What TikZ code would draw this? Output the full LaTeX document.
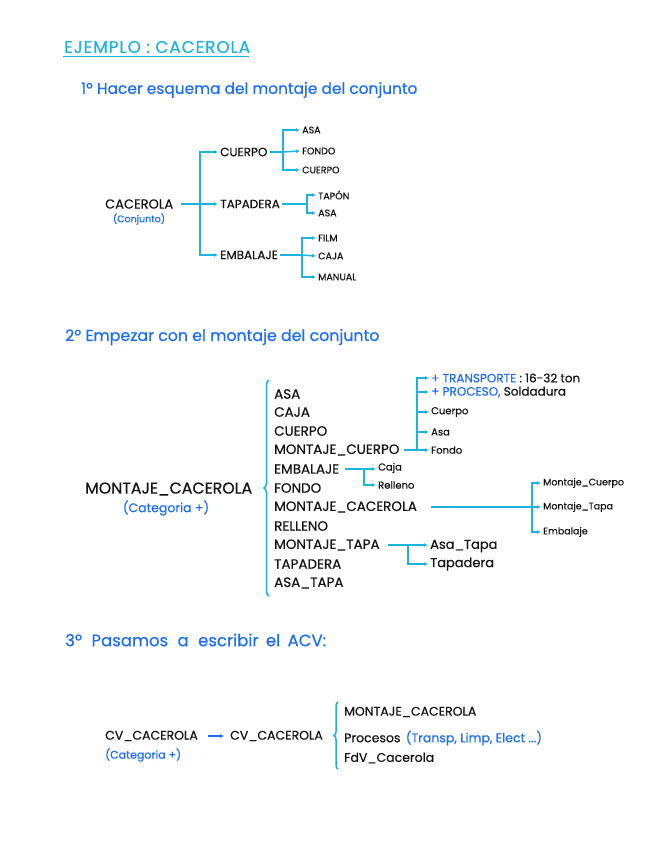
\documentclass[tikz,border=0pt]{standalone}
\usepackage{fontspec}
\setmainfont{Poppins}[FakeBold=0.5]
\usetikzlibrary{arrows.meta,decorations.pathreplacing}
\definecolor{cy}{RGB}{28,180,222}
\definecolor{tb}{RGB}{30,110,245}
\definecolor{ink}{RGB}{20,20,20}
\newcommand{\szT}{\fontsize{17}{19}\selectfont\addfontfeature{LetterSpace=5}}
\newcommand{\szH}{\fontsize{15.4}{17}\selectfont}
\newcommand{\szHB}{\fontsize{15.8}{17}\selectfont}
\newcommand{\szHH}{\fontsize{16.5}{18}\selectfont}
\newcommand{\szA}{\fontsize{13}{15}\selectfont}
\newcommand{\szB}{\fontsize{12}{14}\selectfont}
\newcommand{\szC}{\fontsize{9.5}{11}\selectfont}
\newcommand{\szD}{\fontsize{15.8}{18}\selectfont}
\newcommand{\szE}{\fontsize{13.5}{16}\selectfont}
\newcommand{\szF}{\fontsize{12.5}{14}\selectfont}
\newcommand{\szG}{\fontsize{10}{12}\selectfont}
\newcommand{\szK}{\fontsize{11}{13}\selectfont}
\newcommand{\szS}{\fontsize{12}{13}\selectfont}
\newcommand{\szL}{\fontsize{13}{15}\selectfont}
\tikzset{
  lbl/.style={anchor=west, inner sep=2pt, text=ink},
  ln/.style={draw=cy, line width=1.5pt},
  arr/.style={ln, -{Latex[length=4pt,width=4pt]}},
  note/.style={text=tb, inner sep=1pt},
}
\begin{document}
\begin{tikzpicture}[x=1pt,y=-1pt]
\useasboundingbox[fill=white] (0,0) rectangle (646,848);

% title
\node[anchor=west, inner sep=0pt, text=cy, font=\szT] (title) at (64,47) {EJEMPLO : CACEROLA};
\draw[ln, line width=1.3pt] ([xshift=-1pt,yshift=-3pt]title.south west) -- ([xshift=-1pt,yshift=-3pt]title.south east);

% section 1
\node[anchor=west, note, font=\szH] (h1) at (80,90) {1º Hacer esquema del montaje del conjunto};

\node[lbl, font=\szA] (cac) at (103,204) {CACEROLA};
\node[note, font=\szC] (conj) at (139,219) {(Conjunto)};
\coordinate (j1) at (200,204);
\node[lbl, font=\szB] (cuerpo) at (218,152) {CUERPO};
\node[lbl, font=\szB] (tapadera) at (218,204) {TAPADERA};
\node[lbl, font=\szB] (embalaje) at (218,255) {EMBALAJE};
\draw[ln] ([xshift=6pt]cac.east) -- (j1);
\draw[arr] (j1) |- (cuerpo.west);
\draw[arr] (j1) -- (tapadera.west);
\draw[arr] (j1) |- (embalaje.west);

\node[lbl, font=\szC] (asa1) at (300,130) {ASA};
\node[lbl, font=\szC] (fondo1) at (300,151) {FONDO};
\node[lbl, font=\szC] (cuerpo1) at (300,170) {CUERPO};
\coordinate (j2) at (283,152);
\draw[ln] (cuerpo.east) -- (j2);
\draw[arr] (j2) |- (asa1.west);
\draw[arr] (j2) -- (fondo1.west);
\draw[arr] (j2) |- (cuerpo1.west);

\node[lbl, font=\szC] (tapon1) at (316,195) {TAPÓN};
\node[lbl, font=\szC] (asa2) at (316,213) {ASA};
\coordinate (j3) at (307,204);
\draw[ln] (tapadera.east) -- (j3);
\draw[arr] (j3) |- (tapon1.west);
\draw[arr] (j3) |- (asa2.west);

\node[lbl, font=\szC] (film1) at (316,238) {FILM};
\node[lbl, font=\szC] (caja1) at (316,256) {CAJA};
\node[lbl, font=\szC] (manual1) at (316,277) {MANUAL};
\coordinate (j4) at (302,255);
\draw[ln] (embalaje.east) -- (j4);
\draw[arr] (j4) |- (film1.west);
\draw[arr] (j4) -- (caja1.west);
\draw[arr] (j4) |- (manual1.west);

% section 2
\node[anchor=west, note, font=\szHB] (h2) at (64,337) {2º Empezar con el montaje del conjunto};

\node[lbl, font=\szD] (mc) at (83,489) {MONTAJE\_CACEROLA};
\node[note, font=\szF] (cat1) at (166,508) {(Categoria +)};
\coordinate (bA) at (269,596);
\coordinate (bB) at (269,380);
\draw[draw=cy, line width=1.5pt, decorate, decoration={brace, amplitude=5pt, raise=0pt}] (bA) -- (bB);

\node[lbl, font=\szE] (l1) at (272,394) {ASA};
\node[lbl, font=\szE] (l2) at (272,412) {CAJA};
\node[lbl, font=\szE] (l3) at (272,431) {CUERPO};
\node[lbl, font=\szE] (l4) at (272,450) {MONTAJE\_CUERPO};
\node[lbl, font=\szE] (l5) at (272,469) {EMBALAJE};
\node[lbl, font=\szE] (l6) at (272,488) {FONDO};
\node[lbl, font=\szE] (l7) at (272,507) {MONTAJE\_CACEROLA};
\node[lbl, font=\szE] (l8) at (272,526) {RELLENO};
\node[lbl, font=\szE] (l9) at (272,545) {MONTAJE\_TAPA};
\node[lbl, font=\szE] (l10) at (272,564) {TAPADERA};
\node[lbl, font=\szE] (l11) at (272,583) {ASA\_TAPA};

% montaje cuerpo subtree
\coordinate (k1) at (417,450);
\node[lbl, font=\szS] (s1) at (429,378) {\textcolor{tb}{+ TRANSPORTE} : 16-32 ton};
\node[lbl, font=\szS] (s2) at (429,392) {\textcolor{tb}{+ PROCESO,} Soldadura};
\node[lbl, font=\szG] (s3) at (429,412) {Cuerpo};
\node[lbl, font=\szG] (s4) at (429,432) {Asa};
\node[lbl, font=\szG] (s5) at (429,450) {Fondo};
\draw[ln] ([xshift=2pt]l4.east) -- (k1);
\draw[arr] (k1) |- (s1.west);
\draw[arr] (k1) |- (s2.west);
\draw[arr] (k1) |- (s3.west);
\draw[arr] (k1) |- (s4.west);
\draw[arr] (k1) -- (s5.west);

% embalaje subtree
\coordinate (k2) at (364,469);
\node[lbl, font=\szG] (e1) at (376,468) {Caja};
\node[lbl, font=\szG] (e2) at (376,485) {Relleno};
\draw[ln] ([xshift=4pt]l5.east) -- (k2);
\draw[arr] (k2) -- (e1.west |- k2);
\draw[arr] (k2) |- (e2.west);

% montaje cacerola subtree
\coordinate (k3) at (532,507);
\node[lbl, font=\szC] (m1) at (541,483) {Montaje\_Cuerpo};
\node[lbl, font=\szC] (m2) at (541,507) {Montaje\_Tapa};
\node[lbl, font=\szC] (m3) at (541,532) {Embalaje};
\draw[ln] ([xshift=12pt]l7.east) -- (k3);
\draw[arr] (k3) |- (m1.west);
\draw[arr] (k3) -- (m2.west);
\draw[arr] (k3) |- (m3.west);

% montaje tapa subtree
\coordinate (k4) at (408,545);
\node[lbl, font=\szL] (t1) at (428,546) {Asa\_Tapa};
\node[lbl, font=\szL] (t2) at (428,564) {Tapadera};
\draw[ln] ([xshift=6pt]l9.east) -- (k4);
\draw[arr] (k4) -- (t1.west |- k4);
\draw[arr] (k4) |- (t2.west);

% section 3
\node[anchor=west, note, font=\szHH] (h3) at (64,640) {3º\hspace{5pt} Pasamos\hspace{5pt} a\hspace{5pt} escribir\hspace{3pt} el\hspace{3pt} ACV:};

\node[lbl, font=\szF] (cv1) at (103,736) {CV\_CACEROLA};
\node[note, anchor=west, font=\szK] (cat2) at (104,755) {(Categoria +)};
\node[lbl, font=\szF] (cv2) at (228,736) {CV\_CACEROLA};
\draw[draw=tb, line width=1.5pt, -{Latex[length=4pt,width=4pt]}] ([xshift=8pt]cv1.east) -- ([xshift=-4pt]cv2.west);
\coordinate (cA) at (338,769);
\coordinate (cB) at (338,702);
\draw[draw=cy, line width=1.5pt, decorate, decoration={brace, amplitude=4pt}] (cA) -- (cB);
\node[lbl, font=\szF] (p1) at (342,712) {MONTAJE\_CACEROLA};
\node[lbl, font=\szF] (p2) at (342,738) {Procesos \hspace{2pt}\textcolor{tb}{(Transp, Limp, Elect ...)}};
\node[lbl, font=\szF] (p3) at (342,758) {FdV\_Cacerola};
\end{tikzpicture}
\end{document}
